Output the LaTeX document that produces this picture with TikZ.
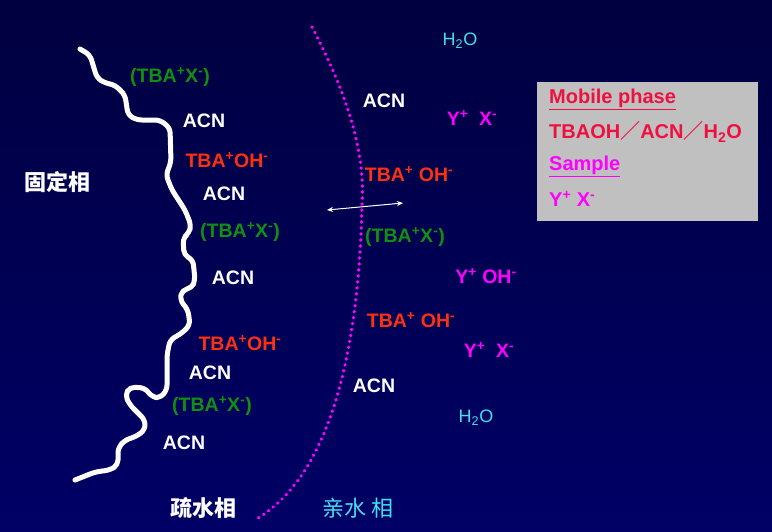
\documentclass[tikz,border=0pt]{standalone}
\usepackage{fontspec}
\usetikzlibrary{arrows.meta}
\setmainfont{Liberation Sans}
\newfontfamily\cjk{Noto Sans CJK SC}
\definecolor{bgtop}{HTML}{000040}
\definecolor{bgbot}{HTML}{000066}
\definecolor{grn}{HTML}{109010}
\definecolor{rd}{HTML}{FF3010}
\definecolor{mg}{HTML}{FF00FF}
\definecolor{cy}{HTML}{40E0F0}
\definecolor{boxred}{HTML}{F01040}
\begin{document}
\begin{tikzpicture}[x=1pt,y=-1pt,
  lab/.style={font=\fontsize{19.5}{19.5}\selectfont\bfseries,inner sep=0pt},
  bx/.style={font=\fontsize{20}{20}\selectfont\bfseries,inner sep=0pt,anchor=west},
  ws/.style={lab,text=white},
  gs/.style={lab,text=grn},
  rs/.style={lab,text=rd},
  ms/.style={lab,text=mg},
  hs/.style={font=\fontsize{18}{18}\selectfont,text=cy,inner sep=0pt},
  cj/.style={font=\cjk\fontsize{22}{22}\selectfont,inner sep=0pt}]
\shade[top color=bgtop,bottom color=bgbot] (0,0) rectangle (772,531);
\useasboundingbox (0,0) rectangle (772,531);
\draw[white,line width=5pt,line cap=round,line join=round,rounded corners=5pt]
 (80,49) -- (90,55) -- (97,78) -- (105,83) -- (115,85) -- (125,95) -- (128,115) -- (137,120) -- (160,120) -- (170,128) -- (171,162) -- (166,175) -- (172,190) -- (185,210) -- (191,225) -- (189,233) -- (183,238) -- (184,255) -- (193,260) -- (195,280) -- (192,288) -- (182,290) -- (180,300) -- (188,310) -- (190,325) -- (182,333) -- (170,340) -- (167,355) -- (167,390) -- (160,398) -- (152,397) -- (145,388) -- (130,387) -- (125,395) -- (130,405) -- (145,420) -- (145,430) -- (135,437) -- (125,440) -- (118,448) -- (118,465) -- (110,470) -- (95,472) -- (75,480);
\coordinate (a0) at (312,27);
\coordinate (a1) at (362,205);
\coordinate (a2) at (258,518);
\draw[mg,line width=3.2pt,dash pattern=on 0.5pt off 5.5pt,line cap=round]
 (a0) .. controls (345,90) and (366,150) .. (a1) .. controls (358,380) and (320,480) .. (a2);
\node[gs] (g1) at (170,77) {(TBA\textsuperscript{+}X\textsuperscript{-})};
\node[ws] (w1) at (204,121) {ACN};
\node[rs] (r1) at (227,160) {TBA\textsuperscript{+}OH\textsuperscript{-}};
\node[ws] (w2) at (224,194) {ACN};
\node[gs] (g2) at (240,232) {(TBA\textsuperscript{+}X\textsuperscript{-})};
\node[ws] (w3) at (233,278) {ACN};
\node[rs] (r2) at (240,343) {TBA\textsuperscript{+}OH\textsuperscript{-}};
\node[ws] (w4) at (210,373) {ACN};
\node[gs] (g3) at (212,406) {(TBA\textsuperscript{+}X\textsuperscript{-})};
\node[ws] (w5) at (184,443) {ACN};
\node[cj,text=white] (c1) at (57,182) {\bfseries 固定相};
\node[cj,text=white] (c2) at (203,508) {\bfseries 疏水相};
\node[cj,text=cy] (c3) at (358,508) {亲水 相};
\node[ws] (w6) at (384,101) {ACN};
\node[hs] (h1) at (460,41) {H\textsubscript{2}O};
\node[ms] (m1) at (472,118) {Y\textsuperscript{+}\ \ X\textsuperscript{-}};
\node[rs] (r3) at (409,174) {TBA\textsuperscript{+} OH\textsuperscript{-}};
\node[gs] (g4) at (405,237) {(TBA\textsuperscript{+}X\textsuperscript{-})};
\node[ms] (m2) at (486,276) {Y\textsuperscript{+} OH\textsuperscript{-}};
\node[rs] (r4) at (411,320) {TBA\textsuperscript{+} OH\textsuperscript{-}};
\node[ms] (m3) at (489,350) {Y\textsuperscript{+}\ \ X\textsuperscript{-}};
\node[ws] (w7) at (374,386) {ACN};
\node[hs] (h2) at (476,418) {H\textsubscript{2}O};
\coordinate (e1) at (327,210);
\coordinate (e2) at (403,203);
\draw[white,line width=1pt,{Stealth[length=6pt,width=5pt]}-{Stealth[length=6pt,width=5pt]}] (e1) -- (e2);
\node[fill={rgb,255:red,192;green,192;blue,192},minimum width=221pt,minimum height=139pt,anchor=north west,inner sep=0pt] (box) at (537,82) {};
\node[bx,text=boxred] (t1) at (549,99) {\underline{Mobile phase}};
\node[bx,text=boxred] (t2) at (549,132) {TBAOH{\cjk ／}ACN{\cjk ／}H\textsubscript{2}O};
\node[bx,text=mg] (t3) at (549,166) {\underline{Sample}};
\node[bx,text=mg] (t4) at (549,199) {Y\textsuperscript{+} X\textsuperscript{-}};
\end{tikzpicture}
\end{document}
